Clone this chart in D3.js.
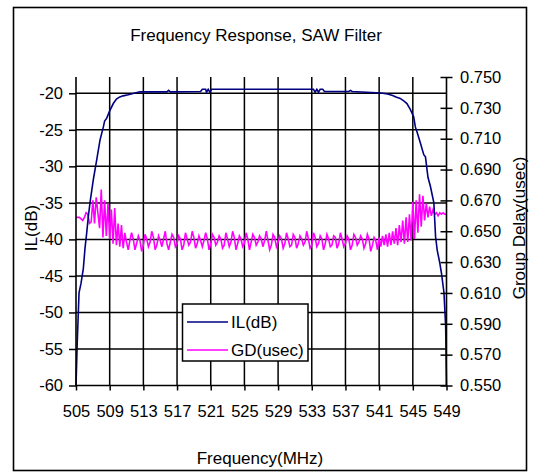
<!DOCTYPE html>
<html>
<head>
<meta charset="utf-8">
<script src="https://cdn.jsdelivr.net/npm/d3@7"></script>
<style>
body{margin:0;background:#fff}
svg text{font-family:Arial,"Liberation Sans",sans-serif;fill:#000}
</style>
</head>
<body>
<svg width="540" height="476"></svg>
<script>
// IL(dB) curve
const ilFreq = [505.0,505.15,505.36,505.6,505.87,506.07,506.27,506.46,506.66,507.06,507.46,507.85,508.25,508.4,508.65,509.0,509.43,509.8,510.2,510.6,511.2,512.0,512.6,515.8,516.0,516.2,519.8,520.0,520.4,520.5,520.7,520.9,521.1,533.2,533.4,533.6,533.8,534.0,534.3,534.5,537.4,537.6,537.8,541.2,542.0,542.6,543.0,543.5,544.0,544.3,544.7,545.1,545.3,545.5,545.9,546.3,546.5,546.8,547.1,547.5,547.7,547.9,548.2,548.4,548.7,548.9,549.0]
const ilVal  = [-60,-54,-47.3,-46.0,-44.0,-41.2,-39.1,-36.9,-35.0,-31.8,-29.1,-26.4,-24.6,-23.8,-23.4,-22.4,-21.4,-20.8,-20.5,-20.35,-20.2,-19.95,-19.8,-19.8,-19.6,-19.8,-19.75,-19.45,-19.45,-19.85,-19.45,-19.85,-19.45,-19.45,-19.85,-19.45,-19.85,-19.45,-19.45,-19.75,-19.75,-19.6,-19.75,-19.95,-20.1,-20.3,-20.5,-20.7,-21.1,-21.4,-22.2,-23.2,-24.6,-25.3,-26.8,-28.4,-28.7,-31.5,-32.8,-35.0,-39.6,-41.5,-43.2,-44.6,-47.3,-51.9,-60]

// GD(usec) curve
const gdFreq = [
505.0,505.2,505.4,505.6,505.8,506.0,506.2,506.4,506.6,506.8,
507.0,507.2,507.4,507.6,507.8,508.0,508.2,508.4,508.6,508.8,
509.0,509.2,509.4,509.6,509.8,510.0,510.2,510.4,510.6,510.8,
511.0,511.2,511.4,511.6,511.8,512.0,512.2,512.4,512.6,512.8,
513.0,513.2,513.4,513.6,513.8,514.0,514.2,514.4,514.6,514.8,
515.0,515.2,515.4,515.6,515.8,516.0,516.2,516.4,516.6,516.8,
517.0,517.2,517.4,517.6,517.8,518.0,518.2,518.4,518.6,518.8,
519.0,519.2,519.4,519.6,519.8,520.0,520.2,520.4,520.6,520.8,
521.0,521.2,521.4,521.6,521.8,522.0,522.2,522.4,522.6,522.8,
523.0,523.2,523.4,523.6,523.8,524.0,524.2,524.4,524.6,524.8,
525.0,525.2,525.4,525.6,525.8,526.0,526.2,526.4,526.6,526.8,
527.0,527.2,527.4,527.6,527.8,528.0,528.2,528.4,528.6,528.8,
529.0,529.2,529.4,529.6,529.8,530.0,530.2,530.4,530.6,530.8,
531.0,531.2,531.4,531.6,531.8,532.0,532.2,532.4,532.6,532.8,
533.0,533.2,533.4,533.6,533.8,534.0,534.2,534.4,534.6,534.8,
535.0,535.2,535.4,535.6,535.8,536.0,536.2,536.4,536.6,536.8,
537.0,537.2,537.4,537.6,537.8,538.0,538.2,538.4,538.6,538.8,
539.0,539.2,539.4,539.6,539.8,540.0,540.2,540.4,540.6,540.8,
541.0,541.2,541.4,541.6,541.8,542.0,542.2,542.4,542.6,542.8,
543.0,543.2,543.4,543.6,543.8,544.0,544.2,544.4,544.6,544.8,
545.0,545.2,545.4,545.6,545.8,546.0,546.2,546.4,546.6,546.8,
547.0,547.2,547.4,547.6,547.8,548.0,548.2,548.4,548.6,548.8,
549.0]
const gdVal = [
0.659,0.659,0.659,0.658,0.657,0.659,0.662,0.661,0.655,0.656,
0.670,0.655,0.672,0.662,0.652,0.677,0.646,0.670,0.647,0.668,
0.645,0.664,0.642,0.665,0.641,0.655,0.640,0.654,0.639,0.649,
0.643,0.638,0.644,0.649,0.645,0.638,0.642,0.647,0.644,0.637,
0.641,0.648,0.645,0.640,0.643,0.650,0.646,0.638,0.641,0.647,
0.644,0.640,0.645,0.650,0.642,0.638,0.643,0.648,0.646,0.640,
0.642,0.647,0.645,0.638,0.641,0.649,0.645,0.641,0.643,0.650,
0.646,0.639,0.642,0.647,0.644,0.640,0.644,0.649,0.645,0.638,
0.642,0.648,0.646,0.641,0.643,0.647,0.645,0.639,0.641,0.649,
0.645,0.640,0.643,0.650,0.646,0.638,0.642,0.647,0.645,0.640,
0.642,0.649,0.645,0.638,0.643,0.648,0.646,0.641,0.643,0.647,
0.645,0.640,0.644,0.650,0.644,0.638,0.641,0.648,0.646,0.640,
0.643,0.647,0.645,0.639,0.642,0.649,0.645,0.640,0.641,0.648,
0.646,0.639,0.642,0.647,0.645,0.641,0.643,0.650,0.645,0.639,
0.641,0.649,0.646,0.640,0.642,0.647,0.645,0.638,0.642,0.648,
0.645,0.640,0.641,0.647,0.646,0.639,0.642,0.649,0.645,0.640,
0.642,0.647,0.645,0.638,0.641,0.648,0.646,0.641,0.643,0.647,
0.645,0.639,0.642,0.648,0.645,0.637,0.641,0.646,0.644,0.638,
0.646,0.640,0.647,0.641,0.648,0.640,0.649,0.641,0.650,0.642,
0.652,0.641,0.654,0.643,0.657,0.642,0.659,0.643,0.661,0.644,
0.669,0.645,0.670,0.649,0.674,0.653,0.673,0.657,0.668,0.659,
0.666,0.660,0.664,0.661,0.662,0.660,0.662,0.661,0.662,0.661,
0.661]

const freqTicks = [505,509,513,517,521,525,529,533,537,541,545,549]
const ilTicks = [-60,-55,-50,-45,-40,-35,-30,-25,-20]
const gdTicks = [0.55,0.57,0.59,0.61,0.63,0.65,0.67,0.69,0.71,0.73,0.75]

const pLeft = 76, pRight = 446.5, pTop = 77, pBottom = 385.5
const navy = "#000080", pink = "#ff00ff"

const svg = d3.select("svg")
const x = d3.scaleLinear().domain([505,549]).range([pLeft,pRight])
const yL = d3.scaleLinear().domain([-60,-20]).range([pBottom,93.3])
const yR = d3.scaleLinear().domain([0.55,0.75]).range([pBottom,pTop])

svg.append("rect").attr("x",13.5).attr("y",7.5).attr("width",513).attr("height",463)
	.style("fill","#fff").style("stroke","#000").style("stroke-width",1.6)

svg.append("text").attr("x",256).attr("y",41).attr("text-anchor","middle")
	.style("font-size","17px").text("Frequency Response, SAW Filter")

// grid
const grid = svg.append("g").style("stroke","#000").style("stroke-width",1.5)
grid.selectAll(".h").data(ilTicks.filter(d => d > -60)).enter().append("line")
	.attr("x1",pLeft).attr("x2",pRight).attr("y1",d => yL(d)).attr("y2",d => yL(d))
grid.selectAll(".v").data(freqTicks.slice(1,-1)).enter().append("line")
	.attr("y1",pTop).attr("y2",pBottom).attr("x1",d => x(d)).attr("x2",d => x(d))

// series
const gdLine = d3.line().x(d => x(d[0])).y(d => yR(d[1]))
const ilLine = d3.line().x(d => x(d[0])).y(d => yL(d[1]))
svg.append("path").datum(gdFreq.map((f,i) => [f,gdVal[i]])).attr("d",gdLine)
	.style("fill","none").style("stroke",pink).style("stroke-width",1.6)
svg.append("path").datum(ilFreq.map((f,i) => [f,ilVal[i]])).attr("d",ilLine)
	.style("fill","none").style("stroke",navy).style("stroke-width",1.6)

// axes
const yAxisL = d3.axisLeft(yL).tickValues(ilTicks).tickSize(7).tickPadding(6).tickFormat(d => String(d))
const yAxisR = d3.axisRight(yR).tickValues(gdTicks).tickSize(6).tickPadding(7.5).tickFormat(d => d.toFixed(3))
const xAxis = d3.axisBottom(x).tickValues(freqTicks).tickSize(5).tickPadding(15).tickFormat(d => String(d))

const gL = svg.append("g").attr("transform",`translate(${pLeft},0)`).call(yAxisL)
const gR = svg.append("g").attr("transform",`translate(${pRight},0)`).call(yAxisR)
const gX = svg.append("g").attr("transform",`translate(0,${pBottom})`).call(xAxis)
gL.select(".domain").remove()
gR.select(".domain").remove()
gX.select(".domain").remove()
gR.selectAll(".tick line").attr("x1",-6)
svg.append("line").attr("x1",pLeft).attr("x2",pLeft).attr("y1",pTop).attr("y2",pBottom)
	.style("stroke","#000").style("stroke-width",1.6)
svg.append("line").attr("x1",pRight).attr("x2",pRight).attr("y1",pTop).attr("y2",pBottom)
	.style("stroke","#000").style("stroke-width",1.6)
svg.append("line").attr("x1",pLeft).attr("x2",pRight).attr("y1",pBottom).attr("y2",pBottom)
	.style("stroke","#000").style("stroke-width",1.6)
;[gL,gR,gX].forEach(g => {
	g.selectAll(".tick line").style("stroke","#000").style("stroke-width",1.5)
	g.selectAll("text").style("font-size","16.5px").style("font-family","Arial, 'Liberation Sans', sans-serif")
})

// axis titles
svg.append("text").attr("transform","translate(37,228) rotate(-90)").attr("text-anchor","middle")
	.style("font-size","17px").text("IL(dB)")
svg.append("text").attr("transform","translate(525,228) rotate(-90)").attr("text-anchor","middle")
	.style("font-size","17px").text("Group Delay(usec)")
svg.append("text").attr("x",260).attr("y",464).attr("text-anchor","middle")
	.style("font-size","17px").text("Frequency(MHz)")

// legend
const leg = svg.append("g")
leg.append("rect").attr("x",182.5).attr("y",304).attr("width",125.5).attr("height",57)
	.style("fill","#fff").style("stroke","#000").style("stroke-width",1.5)
const items = [["IL(dB)",navy],["GD(usec)",pink]]
leg.selectAll(".item").data(items).enter().append("line")
	.attr("x1",187).attr("x2",228).attr("y1",(d,i) => 322 + i*28).attr("y2",(d,i) => 322 + i*28)
	.style("stroke",d => d[1]).style("stroke-width",1.6)
leg.selectAll("text").data(items).enter().append("text")
	.attr("x",231).attr("y",(d,i) => 328 + i*28).style("font-size","17px").text(d => d[0])
</script>
</body>
</html>
